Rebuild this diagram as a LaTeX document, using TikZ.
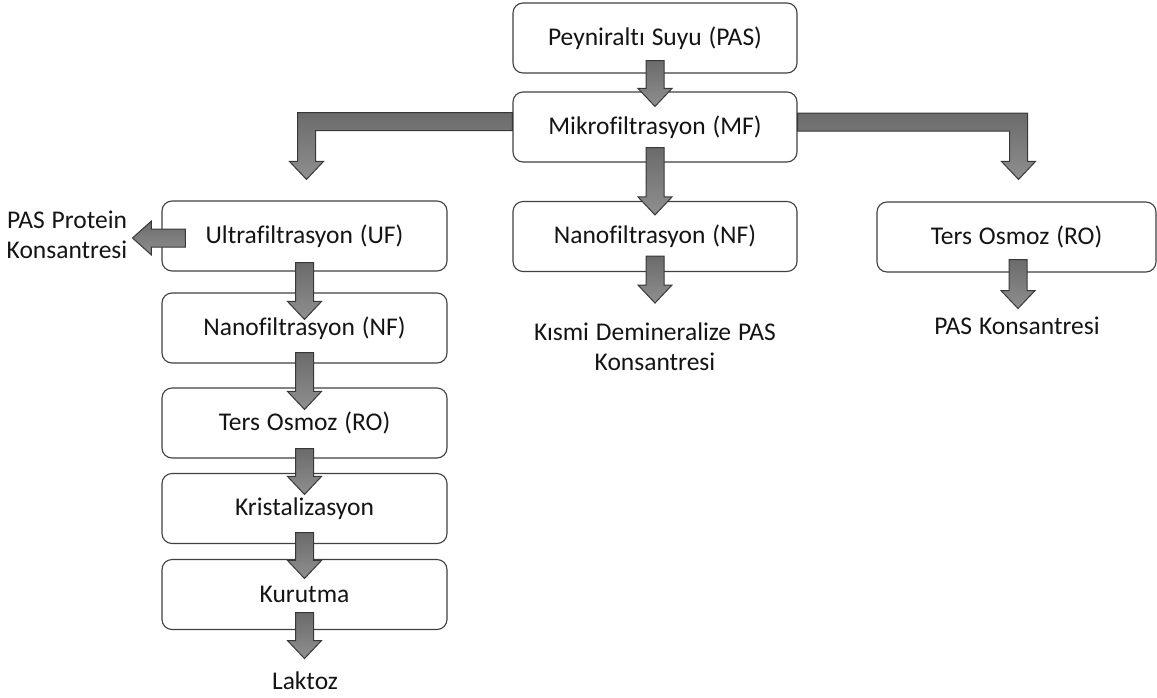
\documentclass[tikz,border=0pt]{standalone}
\usepackage{fontspec}
\setmainfont[Ligatures=NoCommon, WordSpace=1.2]{Carlito}
\usetikzlibrary{calc}

% thick outlined block arrow pointing down: #1 = shaft top centre, #2 = tip
\newcommand\fatdown[2]{%
  \path[fatarrow] let \p1=(#1), \p2=(#2) in
    ({\x1-9pt},{\y1}) -- ({\x1+9pt},{\y1}) -- ({\x1+9pt},{\y2+18pt}) --
    ({\x1+17pt},{\y2+18pt}) -- ({\x1},{\y2}) -- ({\x1-17pt},{\y2+18pt}) --
    ({\x1-9pt},{\y2+18pt}) -- cycle;}
% block arrow pointing left: #1 = shaft end centre, #2 = tip
\newcommand\fatleft[2]{%
  \path[fatarrow] let \p1=(#1), \p2=(#2) in
    ({\x1},{\y1-9pt}) -- ({\x1},{\y1+9pt}) -- ({\x2+19pt},{\y1+9pt}) --
    ({\x2+19pt},{\y1+17pt}) -- ({\x2},{\y1}) -- ({\x2+19pt},{\y1-17pt}) --
    ({\x2+19pt},{\y1-9pt}) -- cycle;}
% bent block arrow: horizontal bar from #1, then down to tip #2;
% #3 = 1 when the bar runs to the left, -1 when it runs to the right
\newcommand\fatelbow[3]{%
  \path[fatarrow] let \p1=(#1), \p2=(#2) in
    ({\x1},{\y1+9pt}) -- ({\x2-(#3)*9pt},{\y1+9pt}) --
    ({\x2-(#3)*9pt},{\y2+18pt}) -- ({\x2-(#3)*17pt},{\y2+18pt}) --
    ({\x2},{\y2}) -- ({\x2+(#3)*17pt},{\y2+18pt}) --
    ({\x2+(#3)*9pt},{\y2+18pt}) -- ({\x2+(#3)*9pt},{\y1-9pt}) --
    ({\x1},{\y1-9pt}) -- cycle;}

\begin{document}
\begin{tikzpicture}[x=1pt,y=-1pt,
  stepbox/.style={draw=black!75, line width=1.1pt, rounded corners=10pt,
    fill=white, minimum width=284pt, minimum height=70pt, inner sep=0pt,
    font=\fontsize{25.5}{30}\selectfont, text=black!92},
  plain/.style={font=\fontsize{25.5}{30}\selectfont, align=center,
    text=black!92, inner sep=0pt},
  fatarrow/.style={draw=black!78, line width=1pt, top color=black!58,
    bottom color=black!44, line join=miter}]
\useasboundingbox (0,0) rectangle (1157,697);

% process steps
\node[stepbox] (pas) at (655,38) {Peyniraltı Suyu (PAS)};
\node[stepbox] (mf) at (655,127) {Mikrofiltrasyon (MF)};
\node[stepbox] (nfm) at (655,236.5) {Nanofiltrasyon (NF)};
\node[stepbox, minimum width=279pt] (ror) at (1016.5,237) {Ters Osmoz (RO)};
\node[stepbox, minimum width=285pt] (uf) at (304.5,236) {Ultrafiltrasyon (UF)};
\node[stepbox, minimum width=285pt] (nfl) at (304.5,328) {Nanofiltrasyon (NF)};
\node[stepbox, minimum width=285pt] (rol) at (304.5,423) {Ters Osmoz (RO)};
\node[stepbox, minimum width=285pt] (kri) at (304.5,508.5) {Kristalizasyon};
\node[stepbox, minimum width=285pt] (kur) at (304.5,594.5) {Kurutma};

% products
\node[plain] (lak) at (305,681) {Laktoz};
\node[plain] (kdp) at (655,347) {Kısmi Demineralize PAS\\Konsantresi};
\node[plain] (pask) at (1017,326) {PAS Konsantresi};
\node[plain] (ppk) at (67,235) {PAS Protein\\Konsantresi};

% arrow end points
\coordinate (a1s) at ($(pas.south)+(0,-13)$);
\coordinate (a1t) at ($(mf.north)+(0,15)$);
\coordinate (a2s) at ($(mf.south)+(0,-15)$);
\coordinate (a2t) at ($(nfm.north)+(0,14)$);
\coordinate (a3s) at ($(nfm.south)+(0,-16)$);
\coordinate (a3t) at ($(nfm.south)+(0,31)$);
\coordinate (b1s) at ($(uf.south)+(0,-9)$);
\coordinate (b1t) at ($(nfl.north)+(0,27)$);
\coordinate (b2s) at ($(nfl.south)+(0,-11)$);
\coordinate (b2t) at ($(rol.north)+(0,22)$);
\coordinate (b3s) at ($(rol.south)+(0,-10)$);
\coordinate (b3t) at ($(kri.north)+(0,21.5)$);
\coordinate (b4s) at ($(kri.south)+(0,-11.5)$);
\coordinate (b4t) at ($(kur.north)+(0,19.5)$);
\coordinate (b5s) at ($(kur.south)+(0,-17.5)$);
\coordinate (b5t) at ($(kur.south)+(0,28.5)$);
\coordinate (c1s) at ($(ror.south)+(1.5,-13)$);
\coordinate (c1t) at ($(ror.south)+(1.5,36)$);
\coordinate (ufs) at ($(uf.west)+(24,2)$);
\coordinate (uft) at ($(uf.west)+(-29,2)$);
\coordinate (ell) at ($(mf.west)+(0,-5.5)$);
\coordinate (elt) at ($(uf.north)+(2,-21)$);
\coordinate (erl) at ($(mf.east)+(0,-5)$);
\coordinate (ert) at ($(ror.north)+(2,-22)$);

% connectors
\fatdown{a1s}{a1t}
\fatdown{a2s}{a2t}
\fatdown{a3s}{a3t}
\fatdown{b1s}{b1t}
\fatdown{b2s}{b2t}
\fatdown{b3s}{b3t}
\fatdown{b4s}{b4t}
\fatdown{b5s}{b5t}
\fatdown{c1s}{c1t}
\fatleft{ufs}{uft}
\fatelbow{ell}{elt}{1}
\fatelbow{erl}{ert}{-1}
\end{tikzpicture}
\end{document}
